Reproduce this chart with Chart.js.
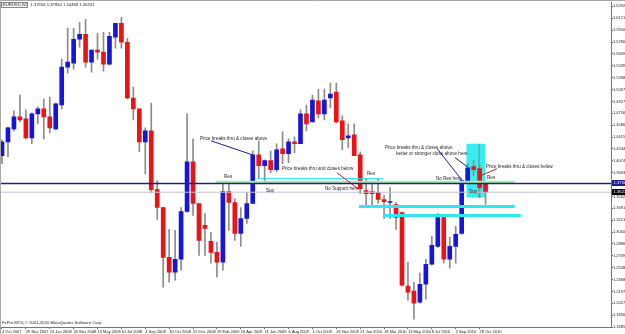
<!DOCTYPE html>
<html>
<head>
<meta charset="utf-8">
<script src="https://cdn.jsdelivr.net/npm/chart.js@4/dist/chart.umd.min.js"></script>
<style>
  html, body { margin: 0; padding: 0; background: #fff; }
  #wrap { width: 625px; height: 334px; }
</style>
</head>
<body>
<div id="wrap"><canvas id="myChart" width="625" height="334"></canvas></div>
<script>
// EURUSD 2-week candles, Oct 2007 - Nov 2010
const opens  = [1.4147,1.4347,1.4533,1.4705,1.4676,1.4404,1.4748,1.4819,1.4705,1.4533,
                1.4876,1.5420,1.5477,1.5820,1.5892,1.5491,1.5663,1.5634,1.5463,1.5849,
                1.6049,1.5777,1.4976,1.4819,1.4347,1.4505,1.3661,1.3403,1.2688,1.2474,
                1.2660,1.3346,1.4061,1.3461,1.3146,1.2917,1.2760,1.2617,1.3632,1.3475,
                1.3032,1.3246,1.3461,1.4161,1.4004,1.4076,1.3947,1.4247,1.4176,1.4347,
                1.4319,1.4748,1.4633,1.4934,1.4748,1.4976,1.5062,1.4648,1.4404,1.4447,
                1.4161,1.3647,1.3632,1.3618,1.3518,1.3475,1.3446,1.3332,1.2274,1.2202,
                1.2045,1.2302,1.2588,1.2846,1.3260,1.2660,1.2846,1.3032,1.3790,1.3990,
                1.3961,1.3766];
const highs  = [1.4376,1.4562,1.4791,1.5019,1.4805,1.4762,1.4848,1.4962,1.4991,1.4905,
                1.5534,1.5977,1.5977,1.6063,1.6106,1.5663,1.5906,1.5920,1.5920,1.6049,
                1.6135,1.5834,1.5134,1.4819,1.4547,1.4905,1.3790,1.3403,1.3089,1.3075,
                1.3403,1.4748,1.4390,1.3461,1.3318,1.3046,1.2903,1.3747,1.3747,1.3532,
                1.3403,1.3618,1.4219,1.4362,1.4090,1.4219,1.4319,1.4490,1.4390,1.4419,
                1.4805,1.4876,1.5019,1.5105,1.5105,1.5191,1.5191,1.4719,1.4605,1.4605,
                1.4204,1.3818,1.3747,1.3818,1.3575,1.3689,1.3475,1.3332,1.2617,1.2331,
                1.2460,1.2660,1.2989,1.3318,1.3303,1.2974,1.3132,1.3790,1.4033,1.4090,
                1.4018,1.3785];
const lows   = [1.4033,1.4133,1.4505,1.4633,1.4390,1.4319,1.4605,1.4390,1.4476,1.4519,
                1.4819,1.5334,1.5391,1.5706,1.5420,1.5348,1.5534,1.5363,1.5448,1.5691,
                1.5691,1.4962,1.4662,1.4204,1.3890,1.3618,1.3232,1.2259,1.2331,1.2360,
                1.2503,1.3332,1.3289,1.2717,1.2717,1.2603,1.2402,1.2503,1.3075,1.2932,
                1.2846,1.3175,1.3461,1.3818,1.3747,1.3904,1.3918,1.4033,1.4047,1.4190,
                1.4319,1.4505,1.4633,1.4690,1.4662,1.4833,1.4619,1.4233,1.4261,1.4147,
                1.3604,1.3418,1.3403,1.3461,1.3246,1.3246,1.3089,1.2274,1.2074,1.1800,
                1.2031,1.2088,1.2574,1.2831,1.2603,1.2531,1.2603,1.3017,1.3775,1.3861,
                1.3546,1.3447];
const closes = [1.4347,1.4547,1.4705,1.4662,1.4404,1.4748,1.4819,1.4705,1.4547,1.4891,
                1.5420,1.5491,1.5820,1.5892,1.5491,1.5663,1.5634,1.5463,1.5863,1.6049,
                1.5777,1.4976,1.4819,1.4347,1.4505,1.3661,1.3403,1.2688,1.2474,1.2660,
                1.3346,1.4061,1.3461,1.2932,1.3103,1.2760,1.2617,1.3632,1.3475,1.3032,
                1.3246,1.3461,1.4161,1.4004,1.4076,1.3947,1.4233,1.4176,1.4347,1.4319,
                1.4748,1.4605,1.4948,1.4748,1.4948,1.5034,1.4633,1.4376,1.4433,1.4147,
                1.3675,1.3604,1.3604,1.3518,1.3489,1.3489,1.3260,1.2288,1.2188,1.2031,
                1.2302,1.2588,1.2860,1.3260,1.2660,1.2846,1.3017,1.3790,1.3975,1.3947,
                1.3689,1.3623];

// x axis: one label every 4 candles
const dateLabels = ['4 Oct 2007','29 Nov 2007','24 Jan 2008','20 Mar 2008','15 May 2008',
                    '10 Jul 2008','4 Sep 2008','30 Oct 2008','25 Dec 2008','19 Feb 2009',
                    '16 Apr 2009','11 Jun 2009','6 Aug 2009','1 Oct 2009','26 Nov 2009',
                    '21 Jan 2010','18 Mar 2010','13 May 2010','8 Jul 2010','2 Sep 2010',
                    '28 Oct 2010'];
// price scale labels
const priceLabels = ['1.62920','1.61214','1.59508','1.57802','1.56096','1.54390','1.52684',
                     '1.50978','1.49272','1.47566','1.45860','1.44154','1.42448','1.40742',
                     '1.39036','1.37330','1.35624','1.33918','1.32212','1.30506','1.28800',
                     '1.27094','1.25388','1.23682','1.21976','1.20270','1.18564','1.16858'];

// drawn objects: horizontal levels [fromIdx, toIdx, price]
const blueLevel = 1.3750;
const greenZone = [35.8, 85.9, 1.3768];
const cyanThin  = [42.9, 63.8, 1.3818];
const cyanLine1 = [59.8, 85.9, 1.3418];
const cyanLine2 = [63.8, 86.9, 1.3289];
const cyanBox   = [77.8, 80.9, 1.4319, 1.3546];
// arrows [x1, p1, x2, p2, colour]
const arrows = [
  [35.0, 1.4362, 41.9, 1.4161, '#1d1d8a'],
  [56.1, 1.3904, 59.6, 1.3675, '#c81e1e'],
  [72.9, 1.4247, 77.1, 1.3790, '#1d1d8a'],
  [75.9, 1.4119, 77.9, 1.3990, '#1d1d8a'],
  [82.9, 1.3961, 80.2, 1.3861, '#c81e1e']
];
// notes [text, idx, price]
const notes = [
  ['Price breaks thru & closes above', 33.17, 1.4390],
  ['Res', 37.19, 1.3847],
  ['Sup', 44.22, 1.3647],
  ['Price breaks thru and closes below', 46.90, 1.3961],
  ['No Support here', 54.10, 1.3675],
  ['Res', 61.14, 1.3890],
  ['Price breaks thru & closes above.', 64.15, 1.4261],
  ['better or stronger close above here', 66.0, 1.4176],
  ['Price breaks thru & closes below.', 81.07, 1.3990],
  ['Res', 81.24, 1.3832],
  ['No Res here', 72.70, 1.3818],
  ['Sup', 78.22, 1.3632]
];

const BLUE = '#1616d8', RED = '#ea1414', WICK = '#8c8c8c';
const FONT = '"Liberation Sans", Arial, sans-serif';

const bodyColors = opens.map((o, i) => closes[i] >= o ? BLUE : RED);
const last = closes.length - 1;

function hline(seg, color, width, order) {
  return {
    type: 'line', order: order,
    data: [{x: seg[0], y: seg[2]}, {x: seg[1], y: seg[2]}],
    borderColor: color, borderWidth: width, pointRadius: 0, fill: false
  };
}

const datasets = [
  {
    type: 'bar', order: 5, grouped: false,
    data: lows.map((l, i) => ({x: i, y: [l, highs[i]]})),
    backgroundColor: WICK, barThickness: 1, borderWidth: 0
  },
  {
    type: 'bar', order: 4, grouped: false,
    data: opens.map((o, i) => ({x: i, y: [o, closes[i]]})),
    backgroundColor: bodyColors, barThickness: 4, borderWidth: 0, minBarLength: 1
  },
  hline(greenZone, '#a8eea8', 3, 3),
  hline(cyanThin, '#1ee0e6', 1, 2),
  hline(cyanLine1, '#33e6ee', 3, 2),
  hline(cyanLine2, '#33e6ee', 3, 2),
  hline([-2, 120, closes[last]], '#c4c4d2', 1, 1),
  hline([-2, 120, blueLevel], '#202086', 1.5, 0)
];
arrows.forEach(a => {
  datasets.push({
    type: 'line', order: 0,
    data: [{x: a[0], y: a[1]}, {x: a[2], y: a[3]}],
    borderColor: a[4], borderWidth: 1, pointRadius: 0, fill: false
  });
});

const overlay = {
  id: 'overlay',
  beforeDraw(chart) {
    const ctx = chart.ctx;
    ctx.save();
    ctx.fillStyle = '#fff';
    ctx.fillRect(0, 0, chart.width, chart.height);
    ctx.strokeStyle = '#a8a8a8';
    ctx.lineWidth = 1;
    ctx.beginPath();
    ctx.moveTo(0.5, chart.height); ctx.lineTo(0.5, 0.5); ctx.lineTo(chart.width, 0.5);
    ctx.stroke();
    ctx.restore();
  },
  beforeDatasetsDraw(chart) {
    const {ctx, scales: {x, y}} = chart;
    const x0 = x.getPixelForValue(cyanBox[0]), x1 = x.getPixelForValue(cyanBox[1]);
    const y0 = y.getPixelForValue(cyanBox[2]), y1 = y.getPixelForValue(cyanBox[3]);
    ctx.save();
    ctx.fillStyle = '#38eef0';
    ctx.fillRect(x0, y0, x1 - x0, y1 - y0);
    ctx.strokeStyle = '#6a8a8a';
    ctx.lineWidth = 1;
    ctx.beginPath();
    ctx.moveTo(x.getPixelForValue(79.9), y0); ctx.lineTo(x.getPixelForValue(79.9), y1);
    ctx.stroke();
    ctx.restore();
  },
  afterDraw(chart) {
    const {ctx, scales: {x, y}, chartArea} = chart;
    ctx.save();
    ctx.fillStyle = '#1e1e1e';
    ctx.font = '4.6px ' + FONT;
    ctx.textBaseline = 'middle';
    ctx.textAlign = 'left';
    notes.forEach(n => ctx.fillText(n[0], x.getPixelForValue(n[1]), y.getPixelForValue(n[2])));

    // header and copyright
    ctx.font = '4.2px ' + FONT;
    ctx.fillStyle = '#222';
    ctx.fillText('EURUSD,W2  1.37656 1.37854 1.34469 1.36231', 3, 5);
    ctx.strokeStyle = '#888';
    ctx.strokeRect(1.5, 2.5, 26, 5);
    ctx.fillText('FxPro MT4, \u00a9 2001-2010 MetaQuotes Software Corp.', 2, 323);

    // price boxes on the axis
    const ax = chartArea.right + 1;
    const boxes = [[blueLevel, '#1c1c90'], [closes[last], '#000']];
    boxes.forEach(b => {
      const py = Math.round(y.getPixelForValue(b[0]));
      ctx.fillStyle = b[1];
      ctx.fillRect(ax, py - 3, chart.width - ax, 6);
      ctx.fillStyle = '#fff';
      ctx.font = '4.2px ' + FONT;
      ctx.fillText(b[0].toFixed(5), ax + 1.5, py);
    });
    ctx.restore();
  }
};

const ctx = document.getElementById('myChart');
new Chart(ctx, {
  data: { datasets: datasets },
  options: {
    responsive: false,
    animation: false,
    events: [],
    layout: { padding: { top: 1, left: 1, right: 0, bottom: 0 } },
    plugins: { legend: { display: false }, tooltip: { enabled: false } },
    scales: {
      x: {
        type: 'linear', position: 'bottom', offset: false,
        min: -0.1675, max: 102.01,
        grid: { display: true, offset: false, drawOnChartArea: false, tickLength: 2, color: '#666' },
        border: { display: true, color: '#777' },
        afterBuildTicks: s => { s.ticks = dateLabels.map((d, k) => ({ value: k * 4 })); },
        afterFit: s => { s.height = 7; },
        ticks: {
          autoSkip: false, maxRotation: 0, minRotation: 0, align: 'start', padding: 0,
          font: { size: 4, family: FONT }, color: '#222',
          callback: (v, i) => dateLabels[i]
        }
      },
      y: {
        type: 'linear', position: 'right',
        min: 1.16874, max: 1.63492,
        grid: { display: true, drawOnChartArea: false, tickLength: 2, color: '#666' },
        border: { display: true, color: '#777' },
        afterBuildTicks: s => { s.ticks = priceLabels.map(p => ({ value: parseFloat(p) })); },
        afterFit: s => { s.width = 14; },
        ticks: {
          autoSkip: false, padding: 0,
          font: { size: 4, family: FONT }, color: '#222',
          callback: (v, i) => priceLabels[i]
        }
      }
    }
  },
  plugins: [overlay]
});
</script>
</body>
</html>
